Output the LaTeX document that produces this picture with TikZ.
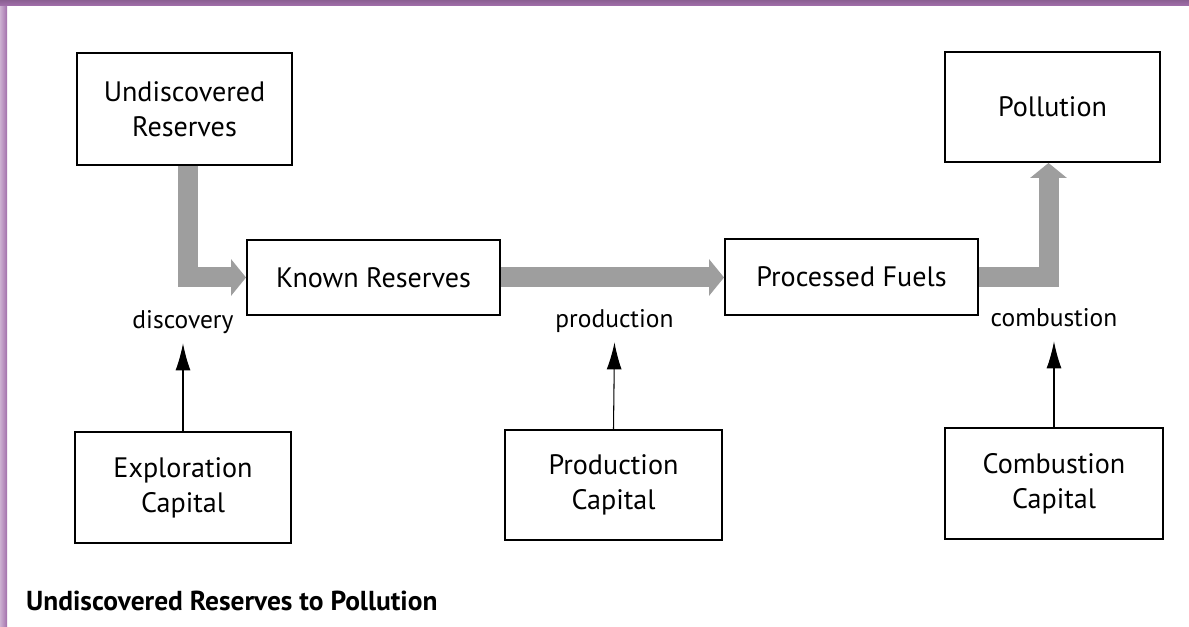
\documentclass[tikz,border=0pt]{standalone}
\usepackage{fontspec}
\setmainfont{PT Sans}
\usetikzlibrary{calc,arrows.meta}
\definecolor{framepurple}{RGB}{163,112,172}

\begin{document}
\begin{tikzpicture}[
    box/.style={draw, line width=1.1pt, align=center, inner sep=0pt,
      font=\fontsize{16}{20}\selectfont},
    flowlabel/.style={anchor=base, font=\fontsize{14.5}{17}\selectfont,
      text depth=0.3em, inner sep=5pt},
    fat/.style={draw=black!38, line width=0.40cm, line join=miter,
      -{Triangle[length=3.0mm, width=7.2mm]}},
    feed/.style={line width=0.6pt, -{Latex[length=5.4mm, width=3mm]}}]
  \useasboundingbox (0,0) rectangle (23.78,12.54);
  % purple frame, top and left
  \shade[left color=framepurple!55, right color=framepurple] (0,0) rectangle (0.14,12.54);
  \shade[top color=framepurple!85!black, bottom color=framepurple] (0,12.42) rectangle (23.78,12.54);

  \node[box, minimum width=4.30cm, minimum height=2.24cm] (undisc) at (3.69, 10.36) {Undiscovered\\Reserves};
  \node[box, minimum width=5.06cm, minimum height=1.50cm] (known) at (7.47, 6.99) {Known Reserves};
  \node[box, minimum width=5.06cm, minimum height=1.52cm] (fuels) at (17.03, 7.00) {Processed Fuels};
  \node[box, minimum width=4.30cm, minimum height=2.20cm] (pollution) at (21.05, 10.40) {Pollution};

  \node[box, minimum width=4.32cm, minimum height=2.22cm] (explcap) at (3.66, 2.79) {Exploration\\Capital};
  \node[box, minimum width=4.34cm, minimum height=2.20cm] (prodcap) at (12.27, 2.84) {Production\\Capital};
  \node[box, minimum width=4.36cm, minimum height=2.22cm] (combcap) at (21.08, 2.87) {Combustion\\Capital};

  \node[flowlabel] (discovery) at (3.66, 5.96) {discovery};
  \node[flowlabel] (production) at (12.29, 5.98) {production};
  \node[flowlabel] (combustion) at (21.08, 6.00) {combustion};

  % material flow
  \draw[fat] ([xshift=0.07cm]undisc.south) |- (known.west);
  \draw[fat] (known.east) -- (known.east -| fuels.west);
  \draw[fat] (fuels.east) -| ([xshift=-0.08cm]pollution.south);

  % capital inputs
  \draw[feed] (explcap.north) -- (discovery.south);
  \draw[feed] (prodcap.north) -- (production.south);
  \draw[feed] (combcap.north) -- (combustion.south);

  \node[anchor=west, font=\bfseries\fontsize{15.6}{18}\selectfont] (caption) at (0.40, 0.52) {Undiscovered Reserves to Pollution};
\end{tikzpicture}
\end{document}
